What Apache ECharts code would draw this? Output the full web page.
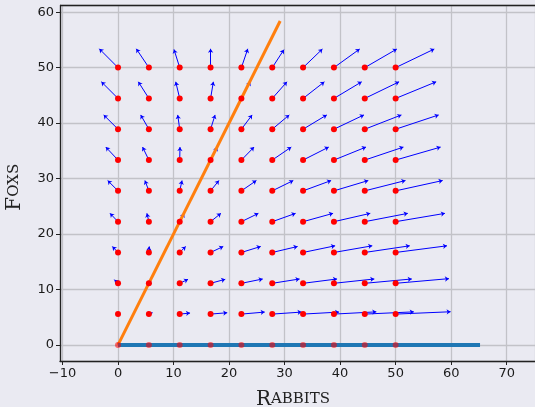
<!DOCTYPE html>
<html>
<head>
<meta charset="utf-8">
<script src="https://cdn.jsdelivr.net/npm/echarts@6/dist/echarts.min.js"></script>
<style>
  html, body { margin: 0; padding: 0; background: #eaeaf2; }
  #chart { width: 535px; height: 407px; }
</style>
</head>
<body>
<div id="chart"></div>
<script>
// grid of starting points (rabbits on x, foxes on y)
const gridX = [0, 5.56, 11.11, 16.67, 22.22, 27.78, 33.33, 38.89, 44.44, 50];
const gridY = [0, 5.56, 11.11, 16.67, 22.22, 27.78, 33.33, 38.89, 44.44, 50];

// arrow components, one row per gridY value
const arrowU = [
  [0, 0, 0, 0, 0, 0, 0, 0, 0, 0],
  [0, 0.66, 1.86, 3.0, 4.2, 5.28, 6.48, 7.63, 8.83, 9.9],
  [-0.66, 0.4, 1.5, 2.64, 3.84, 4.92, 6.12, 7.27, 8.47, 9.6],
  [-1.02, 0, 1.08, 2.28, 3.48, 4.56, 5.77, 6.9, 8.1, 9.25],
  [-1.44, -0.36, 0.8, 1.86, 3.06, 4.2, 5.4, 6.54, 7.75, 8.88],
  [-1.86, -0.72, 0.42, 1.5, 2.7, 3.78, 5.05, 6.18, 7.33, 8.47],
  [-2.2, -1.14, 0.05, 1.2, 2.28, 3.42, 4.62, 5.77, 6.96, 8.1],
  [-2.58, -1.48, -0.36, 0.81, 1.93, 3.06, 4.27, 5.4, 6.6, 7.75],
  [-3.0, -1.9, -0.72, 0.5, 1.6, 2.65, 3.84, 4.99, 6.18, 7.3],
  [-3.37, -2.27, -1.03, 0, 1.15, 2.1, 3.48, 4.63, 5.77, 6.96]
];
const arrowV = [
  [0, 0, 0, 0, 0, 0, 0, 0, 0, 0],
  [0, 0.25, 0.18, 0.24, 0.36, 0.36, 0.36, 0.4, 0.4, 0.42],
  [0.66, 0.66, 0.72, 0.72, 0.78, 0.78, 0.78, 0.78, 0.78, 0.84],
  [1.08, 1.08, 1.08, 1.08, 1.08, 1.08, 1.2, 1.2, 1.2, 1.2],
  [1.5, 1.5, 1.5, 1.5, 1.5, 1.5, 1.5, 1.5, 1.5, 1.5],
  [1.86, 1.86, 1.86, 1.86, 1.86, 1.86, 1.86, 1.86, 1.86, 1.86],
  [2.34, 2.34, 2.34, 2.34, 2.34, 2.34, 2.34, 2.34, 2.34, 2.34],
  [2.58, 2.58, 2.58, 2.58, 2.58, 2.58, 2.58, 2.58, 2.58, 2.58],
  [3.0, 3.0, 3.0, 3.0, 3.0, 3.0, 3.0, 3.0, 3.0, 3.0],
  [3.39, 3.39, 3.28, 3.39, 3.39, 3.24, 3.35, 3.35, 3.35, 3.35]
];

// nullclines
const foxNullX = [0, 29.2];
const foxNullY = [0, 58.4];
const rabbitNullX = [0, 65.2];
const rabbitNullY = [0, 0];

const chart = echarts.init(document.getElementById('chart'));

const points = [];
const arrows = [];
gridY.forEach((y, j) => {
  gridX.forEach((x, i) => {
    const u = arrowU[j][i], v = arrowV[j][i];
    points.push({ value: [x, y], itemStyle: { opacity: y === 0 ? 0.55 : 1 } });
    if (u !== 0 || v !== 0) arrows.push({ coords: [[x, y], [x + u, y + v]] });
  });
});

const minus = v => String(v).replace('-', '\u2212');
const tickFont = { fontFamily: 'DejaVu Sans', fontSize: 13, color: '#1a1a1a' };
// fake small caps: big first letter, smaller rest lifted onto the same baseline
const smallCaps = {
  a: { fontFamily: 'DejaVu Serif', fontSize: 20, color: '#222', verticalAlign: 'bottom' },
  b: { fontFamily: 'DejaVu Serif', fontSize: 15, color: '#222', verticalAlign: 'bottom', padding: [0, 0, 3, 0] }
};

const option = {
  backgroundColor: '#eaeaf2',
  animation: false,
  grid: { left: 60, right: 0, top: 5.5, bottom: 46, outerBoundsMode: 'none', containLabel: false },
  xAxis: {
    type: 'value',
    min: -10.45,
    max: 75.1,
    splitNumber: 9,
    name: '{a|R}{b|ABBITS}',
    nameLocation: 'middle',
    nameGap: 29,
    nameTextStyle: { rich: smallCaps, padding: [0, 9, 0, 0] },
    axisLine: { onZero: false, lineStyle: { color: '#222', width: 1.3 } },
    axisTick: { show: true, length: 4, lineStyle: { color: '#222' } },
    axisLabel: Object.assign({ margin: 6, showMinLabel: false, showMaxLabel: false, formatter: minus }, tickFont),
    splitLine: { show: true, lineStyle: { color: '#c2c2c8', width: 1.3 } }
  },
  yAxis: {
    type: 'value',
    min: -2.9,
    max: 61.2,
    splitNumber: 6,
    name: '{a|F}{b|OXS}',
    nameLocation: 'middle',
    nameRotate: 90,
    nameGap: 35,
    nameTextStyle: { rich: smallCaps, padding: [0, 8, 0, 0] },
    axisLine: { show: true, onZero: false, lineStyle: { color: '#222', width: 1.3 } },
    axisTick: { show: true, length: 4, lineStyle: { color: '#222' } },
    axisLabel: Object.assign({ margin: 6, showMinLabel: false, showMaxLabel: false, formatter: minus }, tickFont),
    splitLine: { show: true, lineStyle: { color: '#c2c2c8', width: 1.3 } }
  },
  graphic: [{
    type: 'line', z: 10,
    shape: { x1: 60, y1: 5.5, x2: 535, y2: 5.5 },
    style: { stroke: '#222', lineWidth: 1.3 }
  }],
  series: [
    {
      type: 'lines',
      coordinateSystem: 'cartesian2d',
      polyline: false,
      symbol: ['none', 'arrow'],
      symbolSize: 4,
      lineStyle: { color: '#0000ff', width: 1, opacity: 1 },
      data: arrows,
      z: 2
    },
    {
      type: 'scatter',
      data: points,
      symbolSize: 6,
      itemStyle: { color: '#ff0000' },
      z: 4
    },
    {
      type: 'line',
      data: foxNullX.map((x, i) => [x, foxNullY[i]]),
      showSymbol: false,
      lineStyle: { color: '#ff7f0e', width: 3 },
      z: 3
    },
    {
      type: 'line',
      data: rabbitNullX.map((x, i) => [x, rabbitNullY[i]]),
      showSymbol: false,
      lineStyle: { color: '#1f77b4', width: 4 },
      z: 3
    }
  ]
};

chart.setOption(option);
</script>
</body>
</html>
